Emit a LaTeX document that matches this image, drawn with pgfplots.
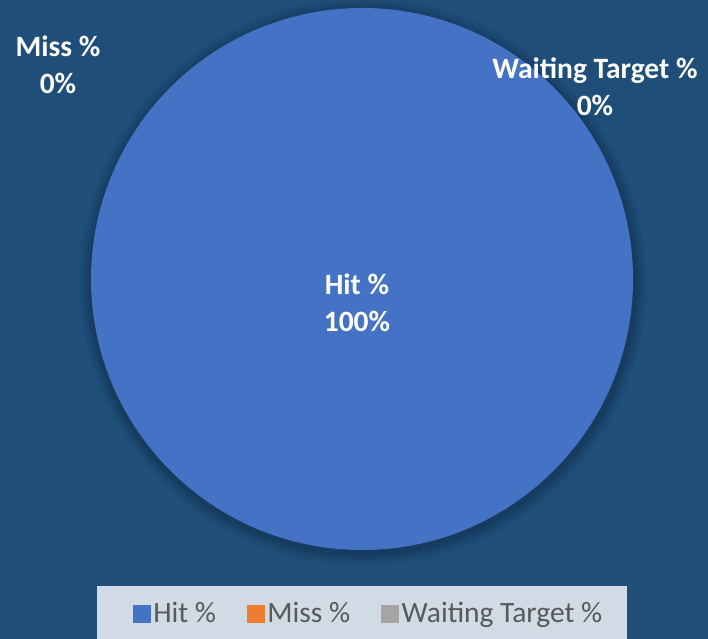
\documentclass[border=0pt]{standalone}
\usepackage{pgfplots}
\usepackage{pgfplotstable}
\pgfplotsset{compat=1.18}
\usepackage{fontspec}
\setmainfont{Carlito}
\definecolor{bgblue}{HTML}{1F4E79}
\definecolor{hitblue}{HTML}{4472C4}
\definecolor{missorange}{HTML}{ED7D31}
\definecolor{waitgray}{HTML}{A5A5A5}
\definecolor{legbg}{HTML}{D0DBE5}
\definecolor{legtext}{HTML}{595959}

\pgfplotstableread{
label value
Hit 100
Miss 0
Waiting 0
}\piedata

\begin{document}
\begin{tikzpicture}
\pgfplotstablegetelem{0}{value}\of\piedata \edef\vA{\pgfplotsretval}
\pgfplotstablegetelem{1}{value}\of\piedata \edef\vB{\pgfplotsretval}
\pgfplotstablegetelem{2}{value}\of\piedata \edef\vC{\pgfplotsretval}
\pgfmathsetmacro{\aA}{90}
\pgfmathsetmacro{\aB}{90-3.6*\vA}
\pgfmathsetmacro{\aC}{\aB-3.6*\vB}
\pgfmathsetmacro{\aD}{\aC-3.6*\vC}
\begin{axis}[
  at={(0,0)}, anchor=origin,
  hide axis, scale only axis,
  width=708bp, height=639bp,
  xmin=0, xmax=708, ymin=0, ymax=639,
  clip=false,
  legend columns=3,
  legend style={draw=none, fill=none,
    at={(axis cs:368,26)}, anchor=center,
    font=\fontsize{29.5bp}{32bp}\selectfont,
    text=legtext,
    nodes={inner sep=1bp},
    /tikz/every odd column/.append style={column sep=2bp},
    /tikz/every even column/.append style={column sep=30bp}},
]
% background
\fill[bgblue] (axis cs:0,0) rectangle (axis cs:708,639);
% soft shadow
\fill[black, opacity=0.04] (axis cs:363,357) circle[radius=283bp];
\fill[black, opacity=0.05] (axis cs:363,357) circle[radius=280bp];
\fill[black, opacity=0.06] (axis cs:363,357) circle[radius=277bp];
\fill[black, opacity=0.07] (axis cs:363,357) circle[radius=274bp];
% legend box
\fill[legbg] (axis cs:97,-5) rectangle (axis cs:627,53);
% slices
\ifdim\vA pt>0pt
\fill[hitblue] (axis cs:362,360) -- ++(\aA:271bp) arc[start angle=\aA, end angle=\aB, radius=271bp] -- cycle;
\fi
\ifdim\vB pt>0pt
\fill[missorange] (axis cs:362,360) -- ++(\aB:271bp) arc[start angle=\aB, end angle=\aC, radius=271bp] -- cycle;
\fi
\ifdim\vC pt>0pt
\fill[waitgray] (axis cs:362,360) -- ++(\aC:271bp) arc[start angle=\aC, end angle=\aD, radius=271bp] -- cycle;
\fi
% legend entries
\addlegendimage{legend image code/.code={\fill[hitblue] (0bp,-9bp) rectangle (17bp,8bp);}}
\addlegendentry{Hit \%}
\addlegendimage{legend image code/.code={\fill[missorange] (0bp,-9bp) rectangle (17bp,8bp);}}
\addlegendentry{Miss \%}
\addlegendimage{legend image code/.code={\fill[waitgray] (0bp,-9bp) rectangle (17bp,8bp);}}
\addlegendentry{Waiting Target \%}
% data labels
\node[white, font=\bfseries\fontsize{29.5bp}{37bp}\selectfont, align=center] at (axis cs:357,336) {Hit \%\\100\%};
\node[white, font=\bfseries\fontsize{29.5bp}{37bp}\selectfont, align=center] at (axis cs:58,574) {Miss \%\\0\%};
\node[white, font=\bfseries\fontsize{29.5bp}{37bp}\selectfont, align=center] at (axis cs:595,552) {Waiting Target \%\\0\%};
\end{axis}
\pgfresetboundingbox
\path[use as bounding box] (0,0) rectangle (708bp,639bp);
\end{tikzpicture}
\end{document}
